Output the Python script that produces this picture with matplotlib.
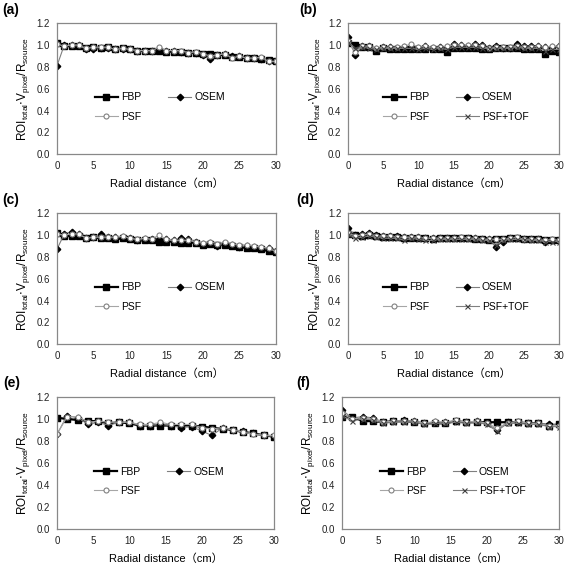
import matplotlib
matplotlib.use("Agg")
import matplotlib.pyplot as plt

plt.rcParams['font.family'] = ['Liberation Sans', 'DejaVu Sans']

# radial positions (cm)
x_1cm = [0, 1, 2, 3, 4, 5, 6, 7, 8, 9, 10, 11, 12, 13, 14, 15, 16, 17, 18, 19, 20,
         21, 22, 23, 24, 25, 26, 27, 28, 29, 30]
x_wide = [0, 1.4, 2.9, 4.3, 5.7, 7.1, 8.6, 10, 11.4, 12.9, 14.3, 15.7, 17.1, 18.6,
          20, 21.4, 22.9, 24.3, 25.7, 27.1, 28.6, 30]

# (a)
fbp_a = [1.02, 0.99, 0.99, 0.99, 0.97, 0.98, 0.97, 0.98, 0.96, 0.97, 0.96, 0.95, 0.95, 0.95, 0.95, 0.94,
         0.94, 0.94, 0.93, 0.93, 0.92, 0.92, 0.91, 0.91, 0.89, 0.89, 0.88, 0.88, 0.87, 0.86, 0.85]
osem_a = [0.81, 1.00, 1.00, 1.00, 0.96, 0.96, 0.97, 0.97, 0.96, 0.96, 0.96, 0.95, 0.95, 0.95, 0.96, 0.95,
          0.95, 0.94, 0.93, 0.93, 0.91, 0.87, 0.91, 0.92, 0.90, 0.90, 0.88, 0.88, 0.87, 0.85, 0.85]
psf_a = [1.01, 0.99, 1.00, 1.00, 0.97, 0.98, 0.98, 0.98, 0.96, 0.97, 0.96, 0.95, 0.95, 0.95, 0.98, 0.95,
         0.95, 0.95, 0.93, 0.94, 0.92, 0.90, 0.91, 0.92, 0.88, 0.90, 0.88, 0.88, 0.89, 0.85, 0.85]

# (b)
fbp_b = [1.02, 1.00, 0.98, 0.98, 0.95, 0.97, 0.96, 0.96, 0.96, 0.96, 0.96, 0.96, 0.96, 0.96, 0.94, 0.97,
         0.97, 0.97, 0.97, 0.96, 0.96, 0.97, 0.97, 0.97, 0.97, 0.96, 0.96, 0.96, 0.92, 0.95, 0.94]
osem_b = [1.07, 0.91, 0.99, 0.99, 0.96, 0.98, 0.98, 0.97, 0.98, 0.98, 0.97, 0.99, 0.97, 0.98, 0.98, 1.01,
          1.00, 0.99, 1.01, 1.00, 0.97, 0.99, 0.97, 0.97, 1.01, 0.99, 0.99, 0.99, 0.98, 0.98, 0.99]
psf_b = [1.04, 0.94, 0.99, 0.99, 0.97, 0.98, 0.98, 0.98, 0.99, 1.01, 0.98, 0.99, 0.98, 0.98, 0.99, 1.00,
         1.00, 1.00, 1.00, 0.99, 0.97, 0.98, 0.98, 0.98, 0.99, 0.98, 0.98, 0.99, 0.98, 0.99, 0.99]
tof_b = [1.03, 0.97, 0.98, 0.97, 0.96, 0.97, 0.97, 0.97, 0.97, 0.97, 0.96, 0.97, 0.96, 0.97, 0.96, 0.98,
         0.98, 0.98, 0.98, 0.97, 0.97, 0.97, 0.97, 0.97, 0.98, 0.97, 0.97, 0.97, 0.95, 0.96, 0.96]

# (c)
fbp_c = [1.02, 0.99, 0.99, 0.99, 0.97, 0.98, 0.97, 0.97, 0.96, 0.97, 0.96, 0.95, 0.95, 0.95, 0.94, 0.94,
         0.94, 0.93, 0.93, 0.93, 0.91, 0.92, 0.91, 0.91, 0.90, 0.89, 0.88, 0.88, 0.87, 0.85, 0.84]
osem_c = [0.87, 1.01, 1.03, 1.01, 0.97, 0.98, 1.01, 0.98, 0.98, 0.98, 0.97, 0.95, 0.96, 0.96, 0.96, 0.96,
          0.95, 0.97, 0.96, 0.94, 0.92, 0.93, 0.90, 0.92, 0.91, 0.89, 0.90, 0.89, 0.88, 0.88, 0.85]
psf_c = [1.01, 1.00, 1.01, 1.01, 0.97, 0.98, 0.98, 0.98, 0.98, 0.99, 0.97, 0.96, 0.97, 0.96, 1.00, 0.96,
         0.95, 0.95, 0.95, 0.94, 0.93, 0.94, 0.92, 0.94, 0.92, 0.91, 0.91, 0.90, 0.89, 0.88, 0.85]

# (d)
fbp_d = [1.01, 1.00, 0.99, 1.00, 0.99, 0.98, 0.98, 0.98, 0.97, 0.97, 0.97, 0.97, 0.96, 0.97, 0.97, 0.97,
         0.97, 0.97, 0.96, 0.96, 0.95, 0.96, 0.96, 0.97, 0.97, 0.96, 0.96, 0.96, 0.95, 0.95, 0.95]
osem_d = [1.06, 1.00, 1.01, 1.02, 1.00, 0.99, 0.99, 0.99, 0.98, 0.98, 0.98, 0.97, 0.97, 0.97, 0.97, 0.97,
          0.97, 0.97, 0.97, 0.96, 0.96, 0.89, 0.94, 0.97, 0.97, 0.96, 0.96, 0.96, 0.94, 0.95, 0.95]
psf_d = [1.02, 0.99, 1.00, 1.01, 0.99, 0.99, 0.99, 0.98, 0.98, 0.98, 0.98, 0.97, 0.97, 0.97, 0.97, 0.97,
         0.98, 0.97, 0.97, 0.96, 0.96, 0.96, 0.96, 0.97, 0.98, 0.96, 0.96, 0.96, 0.95, 0.96, 0.95]
tof_d = [1.01, 0.97, 0.98, 0.99, 0.98, 0.97, 0.97, 0.97, 0.95, 0.97, 0.96, 0.95, 0.95, 0.96, 0.96, 0.96,
         0.96, 0.96, 0.96, 0.95, 0.95, 0.91, 0.95, 0.96, 0.96, 0.96, 0.95, 0.95, 0.94, 0.94, 0.94]

# (e)
fbp_e = [1.01, 1.00, 0.99, 0.98, 0.98, 0.96, 0.97, 0.96, 0.94, 0.94, 0.94,
         0.94, 0.94, 0.94, 0.93, 0.92, 0.91, 0.90, 0.88, 0.87, 0.85, 0.84]
osem_e = [0.86, 1.03, 1.01, 0.95, 0.97, 0.94, 0.97, 0.97, 0.94, 0.94, 0.95,
          0.94, 0.92, 0.93, 0.89, 0.85, 0.92, 0.90, 0.89, 0.87, 0.85, 0.84]
psf_e = [0.86, 1.02, 1.02, 0.97, 0.98, 0.97, 0.97, 0.97, 0.95, 0.95, 0.97,
         0.95, 0.95, 0.95, 0.92, 0.91, 0.92, 0.90, 0.88, 0.86, 0.85, 0.85]

# (f)
fbp_f = [1.02, 1.02, 0.98, 0.98, 0.97, 0.98, 0.98, 0.97, 0.96, 0.96, 0.96,
         0.98, 0.97, 0.97, 0.97, 0.97, 0.97, 0.97, 0.96, 0.96, 0.94, 0.95]
osem_f = [1.08, 1.01, 1.02, 1.01, 0.97, 0.98, 0.99, 0.98, 0.96, 0.97, 0.97,
          0.98, 0.97, 0.98, 0.96, 0.90, 0.97, 0.97, 0.96, 0.96, 0.95, 0.95]
psf_f = [1.05, 1.00, 1.01, 1.00, 0.97, 0.98, 0.98, 0.98, 0.96, 0.98, 0.97,
         0.99, 0.97, 0.98, 0.96, 0.92, 0.96, 0.98, 0.96, 0.96, 0.94, 0.94]
tof_f = [1.03, 0.98, 1.00, 0.99, 0.96, 0.97, 0.97, 0.97, 0.95, 0.96, 0.96,
         0.97, 0.96, 0.97, 0.95, 0.89, 0.96, 0.96, 0.95, 0.95, 0.93, 0.93]

yticks = [0.0, 0.2, 0.4, 0.6, 0.8, 1.0, 1.2]
xticks = [0, 5, 10, 15, 20, 25, 30]

ylab = r'ROI$_{\mathregular{total}}$$\cdot$V$_{\mathregular{pixel}}$/R$_{\mathregular{source}}$'

# name, x, series, axes rect, label pos, legend x
panels = [
    ("(a)", x_1cm, [fbp_a, osem_a, psf_a], [0.1005, 0.728, 0.386, 0.231], (0.004, 0.982), 0.47),
    ("(b)", x_1cm, [fbp_b, osem_b, psf_b, tof_b], [0.614, 0.728, 0.372, 0.231], (0.527, 0.982), 0.51),
    ("(c)", x_1cm, [fbp_c, osem_c, psf_c], [0.1005, 0.393, 0.386, 0.231], (0.004, 0.648), 0.47),
    ("(d)", x_1cm, [fbp_d, osem_d, psf_d, tof_d], [0.614, 0.393, 0.372, 0.231], (0.522, 0.648), 0.51),
    ("(e)", x_wide, [fbp_e, osem_e, psf_e], [0.1005, 0.067, 0.383, 0.233], (0.006, 0.325), 0.47),
    ("(f)", x_wide, [fbp_f, osem_f, psf_f, tof_f], [0.603, 0.067, 0.383, 0.233], (0.522, 0.325), 0.51),
]

styles = [
    dict(label="FBP", color="black", lw=1.6, marker="s", ms=4.2, mfc="black", mec="black"),
    dict(label="OSEM", color="#7f7f7f", lw=0.8, marker="D", ms=3.3, mfc="black", mec="black"),
    dict(label="PSF", color="#a6a6a6", lw=0.8, marker="o", ms=3.6, mfc="white", mec="#808080", mew=0.8),
    dict(label="PSF+TOF", color="#808080", lw=0.8, marker="x", ms=3.6, mec="#404040", mew=0.8),
]

fig = plt.figure(figsize=(5.67, 5.67), dpi=100)

for name, xs, series, rect, lpos, legx in panels:
    ax = fig.add_axes(rect)
    handles = []
    for ys, st in zip(series, styles):
        h, = ax.plot(xs, ys, **st)
        handles.append(h)
    ax.set_xlim(0, 30)
    ax.set_ylim(0, 1.2)
    ax.set_xticks(xticks)
    ax.set_yticks(yticks)
    ax.set_yticklabels(["%.1f" % v for v in yticks])
    ax.tick_params(length=0, labelsize=7, pad=5, colors="#222222")
    for s in ax.spines.values():
        s.set_color("#888888")
        s.set_linewidth(0.9)
    ax.set_xlabel("Radial distance\uff08cm\uff09", fontsize=8, labelpad=5,
                  family=['Liberation Sans', 'Noto Sans CJK JP'])
    ax.set_ylabel(ylab, fontsize=8.5, labelpad=3)
    # column-wise fill: FBP/PSF left, OSEM/PSF+TOF right
    order = [0, 2, 1, 3] if len(handles) == 4 else [0, 2, 1]
    ax.legend([handles[i] for i in order], [handles[i].get_label() for i in order],
              ncol=2, loc="center", bbox_to_anchor=(legx, 0.36), frameon=False,
              fontsize=7.5, handlelength=2.2, columnspacing=2.6, labelspacing=0.9,
              handletextpad=0.3)
    fig.text(lpos[0], lpos[1], name, fontsize=10, fontweight="bold", ha="left", va="center")

fig.savefig("out.png", dpi=100)
